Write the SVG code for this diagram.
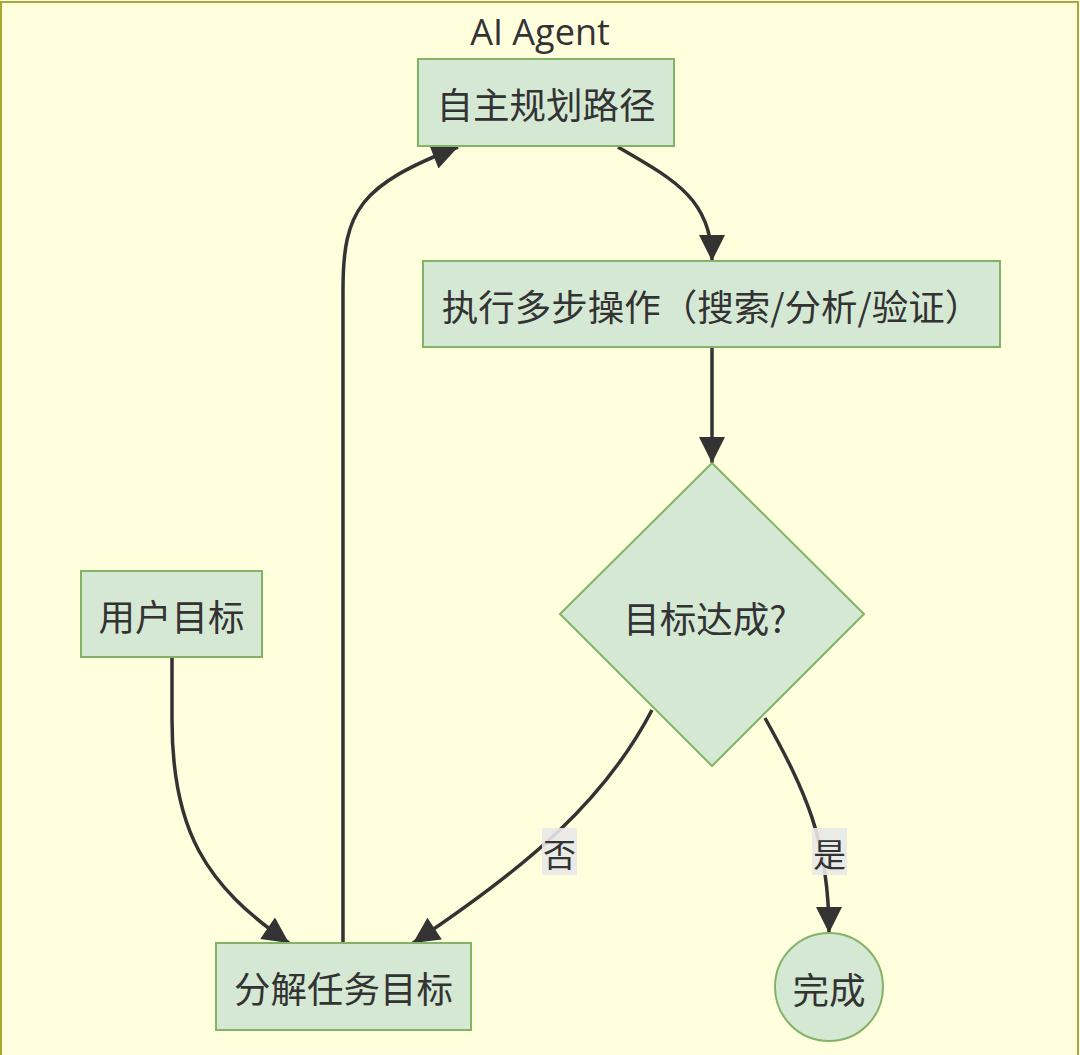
<svg xmlns="http://www.w3.org/2000/svg" width="1080" height="1055" viewBox="0 0 1080 1055">
<style>
.cluster{fill:#ffffde;stroke:#aaaa33;stroke-width:2}
.node{fill:#d5e8d4;stroke:#82b366;stroke-width:2}
.t{font-family:"Noto Sans CJK SC","Noto Sans",sans-serif;font-size:36.5px;fill:#333;text-anchor:middle;dominant-baseline:central}
.title{font-family:"Open Sans","Noto Sans",sans-serif;font-size:36px;fill:#333;text-anchor:middle;dominant-baseline:central}
.edge{fill:none;stroke:#333;stroke-width:3.5}
.lbg{fill:#e8e8e8;opacity:0.9}
.lt{font-family:"Noto Sans CJK SC","Noto Sans",sans-serif;font-size:33px;fill:#333;text-anchor:middle;dominant-baseline:central}
</style>
<defs>
<marker id="arrow" markerUnits="userSpaceOnUse" viewBox="0 0 10 10" refX="10" refY="5" markerWidth="28" markerHeight="26" orient="auto">
<path d="M0,0 L10,5 L0,10 z" fill="#333"/>
</marker>
</defs>
<rect class="cluster" x="1" y="2" width="1077" height="1070"/>
<text class="title" x="540" y="31">AI Agent</text>

<g id="connectors">
<path class="edge" d="M172,658 L172,720 C172,830 205,885 289,943" marker-end="url(#arrow)"/>
<path class="edge" d="M343,943 L343,290 C343,210 360,185 458,147" marker-end="url(#arrow)"/>
<path class="edge" d="M618,147 C675,180 712,200 712,261" marker-end="url(#arrow)"/>
<path class="edge" d="M712,347 L712,463" marker-end="url(#arrow)"/>
<path class="edge" d="M652,710 C605,800 530,865 413,943" marker-end="url(#arrow)"/>
<path class="edge" d="M765,718 C805,790 829,840 829,933" marker-end="url(#arrow)"/>
<g id="label-no">
<rect class="lbg" x="542" y="828" width="35" height="47"/>
<text class="lt" x="559.5" y="853">否</text>
</g>
<g id="label-yes">
<rect class="lbg" x="812" y="828" width="35" height="47"/>
<text class="lt" x="829.5" y="853">是</text>
</g>
</g>

<g id="plan">
<rect class="node" x="418" y="59" width="256" height="87"/>
<text class="t" x="546" y="103">自主规划路径</text>
</g>
<g id="exec">
<rect class="node" x="423" y="261" width="577" height="86"/>
<text class="t" x="711.5" y="305">执行多步操作（搜索/分析/验证）</text>
</g>
<g id="check">
<polygon class="node" points="712,463 864,614 712,766 560,614"/>
<text class="t" x="705" y="617">目标达成?</text>
</g>
<g id="user">
<rect class="node" x="81" y="571" width="181" height="86"/>
<text class="t" x="171.5" y="615">用户目标</text>
</g>
<g id="decompose">
<rect class="node" x="216" y="943" width="255" height="87"/>
<text class="t" x="343.5" y="987">分解任务目标</text>
</g>
<g id="done">
<circle class="node" cx="829" cy="987" r="54"/>
<text class="t" x="829" y="988">完成</text>
</g>
</svg>
